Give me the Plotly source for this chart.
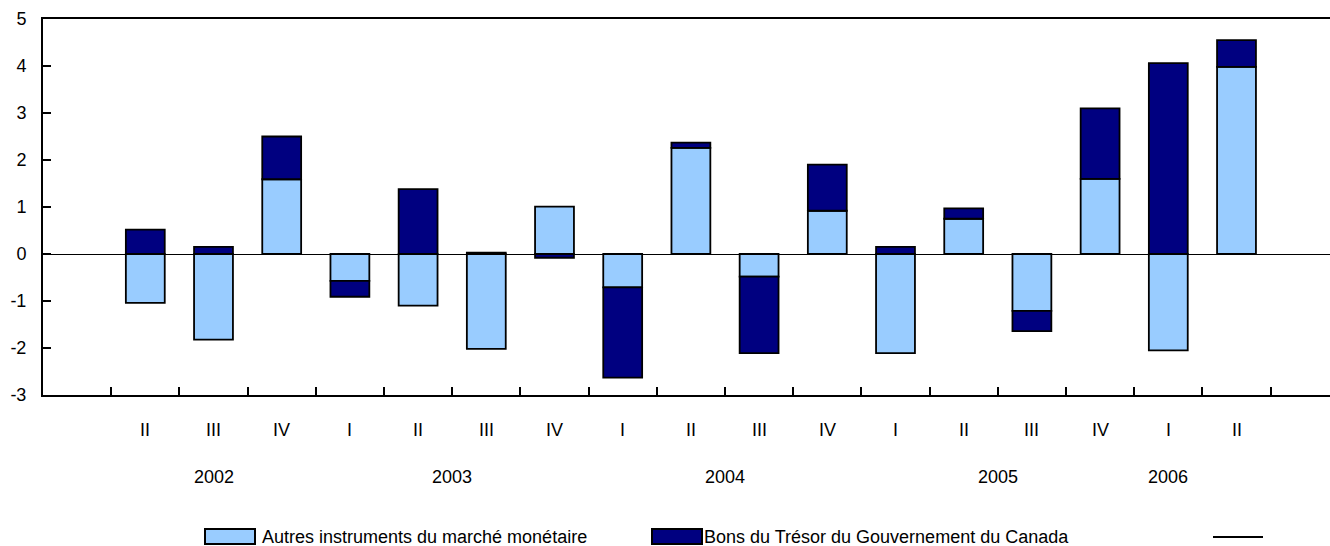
import plotly.graph_objects as go

# ---- data ----
quarters = ["II", "III", "IV", "I", "II", "III", "IV", "I", "II", "III", "IV",
            "I", "II", "III", "IV", "I", "II"]
autres = [-1.04, -1.82, 1.59, -0.57, -1.10, -2.02, 1.01, -0.71, 2.26, -0.48,
          0.92, -2.11, 0.75, -1.21, 1.60, -2.05, 3.98]
bons = [0.52, 0.15, 0.91, -0.34, 1.38, 0.03, -0.08, -1.92, 0.11, -1.63,
        0.98, 0.15, 0.22, -0.43, 1.50, 4.06, 0.57]
years = ["2002", "2003", "2004", "2005", "2006"]
year_at = [2, 5.5, 9.5, 13.5, 16]          # slot index under which each year sits
y_ticks = [-3, -2, -1, 0, 1, 2, 3, 4, 5]
y_tick_text = ["-3", "-2", "-1", "0", "1", "2", "3", "4", "5"]
name_autres = "Autres instruments du marché monétaire"
name_bons = "Bons du Trésor du Gouvernement du Canada"

LIGHT = "#99CCFF"
DARK = "#000080"
FONT = "Liberation Sans, Arial, Helvetica, sans-serif"

W, H = 1330, 546
L, R, T, B = 43, 0, 19, 151
pw, ph = W - L - R, H - T - B

xpos = [i + 1 for i in range(len(quarters))]  # slot 0 left empty

fig = go.Figure()
fig.add_trace(go.Bar(x=xpos, y=autres, name=name_autres, width=0.57,
                     marker=dict(color=LIGHT, line=dict(color="black", width=1.8))))
fig.add_trace(go.Bar(x=xpos, y=bons, name=name_bons, width=0.57,
                     marker=dict(color=DARK, line=dict(color="black", width=1.8))))

slot_px = 68.2
x_lo = -0.5
x_hi = x_lo + pw / slot_px


def px_x(p):
    return (p - L) / pw


def px_y(p):
    return (T + ph - p) / ph


annotations = []
for xi, q in zip(xpos, quarters):
    annotations.append(dict(x=xi, y=px_y(430), xref="x", yref="paper", text=q,
                            showarrow=False, xanchor="center", yanchor="middle",
                            font=dict(size=18, color="black", family=FONT)))
for xi, yr in zip(year_at, years):
    annotations.append(dict(x=xi, y=px_y(477), xref="x", yref="paper", text=yr,
                            showarrow=False, xanchor="center", yanchor="middle",
                            font=dict(size=18, color="black", family=FONT)))

# manual legend
shapes = []
legend_items = [(205, LIGHT, name_autres, 260), (652, DARK, name_bons, 702)]
for x0, col, txt, tx in legend_items:
    shapes.append(dict(type="rect", xref="paper", yref="paper",
                       x0=px_x(x0), x1=px_x(x0 + 50), y0=px_y(544), y1=px_y(529),
                       fillcolor=col, line=dict(color="black", width=2)))
    annotations.append(dict(x=px_x(tx), y=px_y(537), xref="paper", yref="paper",
                            text=txt, showarrow=False, xanchor="left", yanchor="middle",
                            font=dict(size=18, color="black", family=FONT)))
shapes.append(dict(type="line", xref="paper", yref="paper",
                   x0=px_x(1213), x1=px_x(1263), y0=px_y(537), y1=px_y(537),
                   line=dict(color="black", width=2)))

fig.update_layout(
    width=W, height=H,
    margin=dict(l=L, r=R, t=T, b=B, pad=0),
    barmode="relative",
    showlegend=False,
    plot_bgcolor="white", paper_bgcolor="white",
    font=dict(family=FONT, size=18, color="black"),
    annotations=annotations,
    shapes=shapes,
    xaxis=dict(range=[x_lo, x_hi], tickvals=[i + 0.5 for i in range(18)],
               ticktext=[""] * 18, ticks="inside", ticklen=8, tickwidth=1.5,
               tickcolor="black", showline=True, linecolor="black", linewidth=2,
               mirror=True, showgrid=False, zeroline=False, fixedrange=True),
    yaxis=dict(range=[-3, 5], tickvals=y_ticks, ticktext=y_tick_text,
               ticks="inside", ticklen=8,
               tickwidth=1.5, tickcolor="black", showline=True, linecolor="black",
               linewidth=2, showgrid=False, zeroline=True, zerolinecolor="black",
               zerolinewidth=1.2, ticklabelstandoff=11,
               tickfont=dict(size=18, family=FONT, color="black"), fixedrange=True),
)

fig.write_html("out.html", config={"displayModeBar": False},
               post_script="document.body.style.margin='0';document.body.style.overflow='hidden';")
